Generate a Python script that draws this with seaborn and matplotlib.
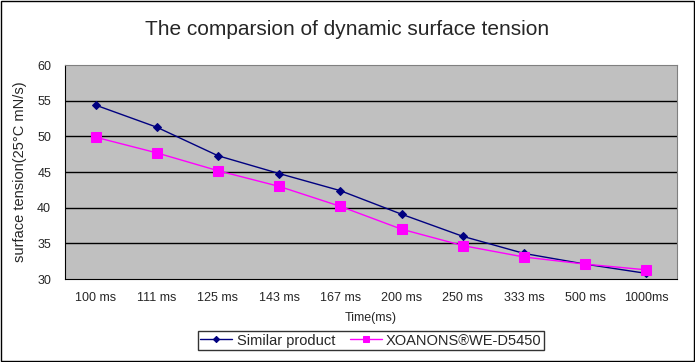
import pandas as pd
import matplotlib.pyplot as plt
import seaborn as sns

times = ["100 ms", "111 ms", "125 ms", "143 ms", "167 ms", "200 ms", "250 ms", "333 ms", "500 ms", "1000ms"]
similar = [54.4, 51.3, 47.3, 44.8, 42.4, 39.1, 36.0, 33.6, 32.1, 30.8]
xoanons = [49.9, 47.7, 45.2, 43.0, 40.2, 37.0, 34.7, 33.1, 32.1, 31.3]

df = pd.DataFrame({"pos": range(len(times)), "similar": similar, "xoanons": xoanons})

sns.set_style("white")
plt.rcParams["font.family"] = ["Liberation Sans", "DejaVu Sans"]

fig = plt.figure(figsize=(6.95, 3.62), dpi=100)
ax = fig.add_axes([0.0935, 0.229, 0.8805, 0.591])
ax.set_facecolor("#C0C0C0")

sns.lineplot(data=df, x="pos", y="similar", ax=ax, color="#000080", marker="D",
             markersize=4.5, markeredgecolor="#000080", linewidth=1, label="Similar product")
sns.lineplot(data=df, x="pos", y="xoanons", ax=ax, color="#FF00FF", marker="s",
             markersize=6.5, markeredgecolor="#FF00FF", linewidth=1, label="XOANONS®WE-D5450")

ax.set_xlim(-0.5, len(times) - 0.5)
ax.set_ylim(30, 60)
ax.set_yticks(range(30, 61, 5))
for y in range(35, 60, 5):
    ax.axhline(y, color="black", linewidth=1, zorder=0)

ax.set_xticks([i - 0.5 for i in range(len(times) + 1)])
ax.set_xticklabels([])
ax.set_xticks(range(len(times)), minor=True)
ax.set_xticklabels(times, minor=True)
ax.tick_params(axis="x", which="major", direction="out", length=4, color="black", width=1)
ax.tick_params(axis="x", which="minor", length=0, pad=9, labelsize=9)
ax.tick_params(axis="y", direction="out", length=4, color="black", width=1, labelsize=9, pad=6)

for side in ["left", "bottom"]:
    ax.spines[side].set_color("black")
for side in ["top", "right"]:
    ax.spines[side].set_color("#808080")

ax.set_xlabel("Time(ms)", fontsize=9, labelpad=6)
ax.set_ylabel("surface tension(25°C mN/s)", fontsize=10.5, labelpad=7)
fig.suptitle("The comparsion of dynamic surface tension", fontsize=15, y=0.945)

leg = ax.legend(loc="upper center", bbox_to_anchor=(0.5, -0.21), ncol=2, frameon=True,
                fancybox=False, edgecolor="black", fontsize=10.5, handlelength=2.2,
                borderpad=0.15, columnspacing=1.0, handletextpad=0.3, markerscale=0.7)
leg.get_frame().set_linewidth(1)

fig.patches.append(plt.Rectangle((0.001, 0.002), 0.997, 0.995, transform=fig.transFigure,
                                 fill=False, edgecolor="black", linewidth=1))

fig.savefig("out.png", dpi=100)
